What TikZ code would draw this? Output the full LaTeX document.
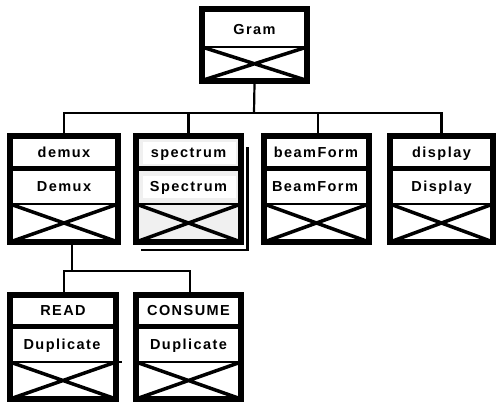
\documentclass[tikz,border=0pt]{standalone}
\usepackage{fontspec}
\newfontfamily\labfont{Liberation Sans}[LetterSpace=10]
\begin{document}
\begin{tikzpicture}[x=1pt,y=-1pt,
  boxframe/.style={draw=black,line width=6pt,inner sep=0pt,outer sep=0pt,fill=white},
  thickdiv/.style={line width=5pt},
  thindiv/.style={line width=2.5pt},
  cross/.style={line width=3.5pt},
  wire/.style={line width=2.2pt},
  lab/.style={font=\labfont\bfseries\fontsize{14.5}{17}\selectfont,inner sep=0pt,text height=10.4pt,text depth=0pt}]
\useasboundingbox (0,0) rectangle (497,404);
% #1 name, #2 xl, #3 xr, #4 ytop, #5 ythick, #6 ythin, #7 ybot, #8 fill
\newcommand\mkbox[8]{%
  \node[boxframe,fill=#8,minimum width={(#3-#2)*1pt},minimum height={(#7-#4)*1pt}] (#1) at ({(#2+#3)/2},{(#4+#7)/2}) {};
  \draw[thickdiv] (#2,#5) -- (#3,#5);
  \draw[thindiv] (#2,#6) -- (#3,#6);
  \draw[cross] (#2,#6) -- (#3,#7) (#2,#7) -- (#3,#6);
  \draw[line width=6pt] (#1.north west) rectangle (#1.south east);
}
% Gram
\node[boxframe,minimum width=105pt,minimum height=71pt] (gram) at (254.5,45) {};
\draw[thindiv] (202,47) -- (307,47);
\draw[cross] (202,47) -- (307,80.5) (202,80.5) -- (307,47);
\draw[line width=6pt] (gram.north west) rectangle (gram.south east);
\node[lab] (gramA) at (254.5,29) {Gram};
% row 1
\mkbox{demux}{10}{118}{136}{168}{204}{242}{white}
\node[lab] (demuxA) at (64,152.5) {demux};
\node[lab] (demuxB) at (64,186.5) {Demux};
% spectrum with shadow
\draw[thindiv] (141,250) -- (247.5,250) -- (247.5,147);
\mkbox{spectrum}{136}{241}{136}{168}{204}{242}{black!6}
\fill[white] (143,142) rectangle (236,164);
\fill[white] (143,176) rectangle (236,198);
\node[lab] (spectrumA) at (188.5,152.5) {spectrum};
\node[lab] (spectrumB) at (188.5,186.5) {Spectrum};
\mkbox{beamform}{264}{369}{136}{168}{204}{242}{white}
\node[lab] (beamformA) at (316,152.5) {beamForm};
\node[lab] (beamformB) at (315,186.5) {BeamForm};
\mkbox{display}{390}{493}{136}{168}{204}{242}{white}
\node[lab] (displayA) at (441.5,152.5) {display};
\node[lab] (displayB) at (441.5,186.5) {Display};
% row 2
\mkbox{read}{10}{116}{295}{326}{362}{399}{white}
\draw[thindiv] (116,362) -- (122,362);
\node[lab] (readA) at (63,310.5) {READ};
\node[lab] (readB) at (62,344) {Duplicate};
\mkbox{consume}{136}{241}{295}{326}{362}{399}{white}
\node[lab] (consumeA) at (188.5,310.5) {CONSUME};
\node[lab] (consumeB) at (188.5,344) {Duplicate};
% connectors
\coordinate (bus) at (254,113);
\draw[wire] ([yshift=-3pt]gram.south) -- (bus);
\draw[wire] ([yshift=3pt]demux.north) |- (bus) -| ([yshift=3pt]display.north);
\draw[wire] ([yshift=3pt]spectrum.north) -- (spectrum.north |- bus);
\draw[wire] ([xshift=1.5pt,yshift=3pt]beamform.north) -- ([xshift=1.5pt]beamform.north |- bus);
\coordinate (bus2) at (72,271);
\draw[wire] ([xshift=8pt,yshift=-3pt]demux.south) -- (bus2);
\draw[wire] ([xshift=1pt,yshift=3pt]read.north) |- (bus2) -| ([xshift=1.5pt,yshift=3pt]consume.north);
\end{tikzpicture}
\end{document}
